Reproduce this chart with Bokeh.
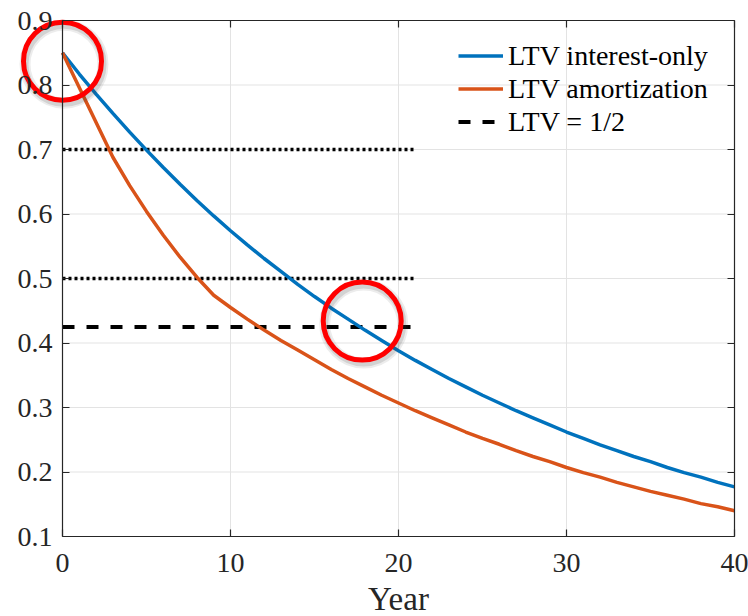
from bokeh.plotting import figure
from bokeh.models import FixedTicker, LinearAxis, Legend, LegendItem, Range1d
from bokeh.embed import file_html
from bokeh.resources import INLINE

# ---------------- data ----------------
years = list(range(0, 41))
ltv_interest_only = [0.850, 0.817, 0.786, 0.756, 0.727, 0.699, 0.672, 0.646, 0.621, 0.597,
                     0.574, 0.552, 0.531, 0.511, 0.491, 0.472, 0.454, 0.437, 0.420, 0.404,
                     0.388, 0.373, 0.359, 0.345, 0.332, 0.319, 0.307, 0.295, 0.284, 0.273,
                     0.262, 0.252, 0.242, 0.233, 0.224, 0.216, 0.207, 0.199, 0.192, 0.184,
                     0.177]

amort_years = [0, 3, 4, 5, 6, 7, 8, 9] + list(range(10, 41))
ltv_amortization = [0.850, 0.688, 0.644, 0.604, 0.567, 0.533, 0.502, 0.474,
                    0.455, 0.437, 0.420, 0.404, 0.389, 0.374, 0.359, 0.345, 0.332, 0.319,
                    0.307, 0.295, 0.284, 0.273, 0.262, 0.252, 0.243, 0.233, 0.224, 0.216,
                    0.207, 0.199, 0.192, 0.184, 0.177, 0.170, 0.164, 0.158, 0.151, 0.146,
                    0.140]

ref_x = [0, 21]
dotted_levels = [0.7, 0.5]
half_level = 0.425

x_ticks = [0, 10, 20, 30, 40]
y_ticks = [0.1, 0.2, 0.3, 0.4, 0.5, 0.6, 0.7, 0.8, 0.9]

highlight_x = [0, 17.84]
highlight_y = [0.837, 0.434]

series_labels = ["LTV interest-only", "LTV amortization", "LTV = 1/2"]
x_label = "Year"

# ---------------- styling / layout ----------------
FONT = "Liberation Serif, Times New Roman, Times, serif"
AX = "#262626"
BLUE = "#0072BD"
ORANGE = "#D95319"
W, H = 748, 616
BOX_L, BOX_R, BOX_T, BOX_B = 62, 734, 20, 536     # pixel box of the axes
X0, X1 = x_ticks[0], x_ticks[-1]
Y0, Y1 = y_ticks[0], y_ticks[-1]
sx = (BOX_R - BOX_L) / (X1 - X0)
sy = (BOX_B - BOX_T) / (Y1 - Y0)
xr = Range1d(X0 - BOX_L / sx, X1 + (W - BOX_R) / sx)
yr = Range1d(Y0 - (H - BOX_B) / sy, Y1 + BOX_T / sy)

p = figure(frame_width=W, frame_height=H, x_range=xr, y_range=yr,
           x_axis_location=None, y_axis_location=None,
           output_backend="svg", toolbar_location=None,
           min_border=0, min_border_left=0, min_border_right=0,
           min_border_top=0, min_border_bottom=0,
           background_fill_color="white", border_fill_color="white")
p.outline_line_color = None
p.grid.visible = False

# grid lines derived from the tick lists
inner_x = x_ticks[1:-1]
inner_y = y_ticks[1:-1]
p.segment(x0=inner_x, y0=[Y0] * len(inner_x), x1=inner_x, y1=[Y1] * len(inner_x),
          line_color="#e3e3e3", line_width=1)
p.segment(x0=[X0] * len(inner_y), y0=inner_y, x1=[X1] * len(inner_y), y1=inner_y,
          line_color="#e3e3e3", line_width=1)

def make_axis(ticks, loc, bounds, labels=True):
    a = LinearAxis(ticker=FixedTicker(ticks=ticks), fixed_location=loc, bounds=bounds,
                   major_tick_in=7, major_tick_out=0, minor_tick_line_color=None,
                   axis_line_color=AX, axis_line_width=1.2, major_tick_line_color=AX,
                   major_tick_line_width=1.2)
    if labels:
        a.major_label_text_font = FONT
        a.major_label_text_font_size = "28px"
        a.major_label_text_color = AX
    else:
        a.major_label_text_color = None
        a.major_label_standoff = 0
    return a

bottom = make_axis(x_ticks, Y0, (X0, X1))
bottom.major_label_standoff = 17
bottom.axis_label = x_label
bottom.axis_label_text_font = FONT
bottom.axis_label_text_font_size = "33px"
bottom.axis_label_text_font_style = "normal"
bottom.axis_label_text_color = AX
bottom.axis_label_standoff = 6
left = make_axis(y_ticks, X0, (Y0, Y1))
left.major_label_standoff = 10
top = make_axis(x_ticks, Y1, (X0, X1), labels=False)
right = make_axis(y_ticks, X1, (Y0, Y1), labels=False)
p.add_layout(bottom, "below")
p.add_layout(left, "left")
p.add_layout(top, "above")
p.add_layout(right, "right")

# reference lines
for lv in dotted_levels:
    p.line(ref_x, [lv, lv], line_color="black", line_width=3.3, line_dash="3 3")
r_half = p.line(ref_x, [half_level, half_level], line_color="black",
                line_width=4, line_dash="12 12")

r_io = p.line(years, ltv_interest_only, line_color=BLUE, line_width=3.5)
r_am = p.line(amort_years, ltv_amortization, line_color=ORANGE, line_width=3.5)

# highlight circles with soft shadow
shx = [x + 1.5 / sx for x in highlight_x]
shy = [y - 3 / sy for y in highlight_y]
p.scatter(shx, shy, marker="circle", size=78, fill_color=None,
          line_color="#444444", line_alpha=0.10, line_width=11)
p.scatter(shx, shy, marker="circle", size=78, fill_color=None,
          line_color="#444444", line_alpha=0.15, line_width=7)
p.scatter(highlight_x, highlight_y, marker="circle", size=78, fill_color=None,
          line_color="#ff0000", line_width=5)

legend = Legend(items=[LegendItem(label=series_labels[0], renderers=[r_io]),
                       LegendItem(label=series_labels[1], renderers=[r_am]),
                       LegendItem(label=series_labels[2], renderers=[r_half])],
                location=(458, 478), padding=0, margin=0, spacing=0,
                glyph_width=45, glyph_height=33, label_height=33,
                label_standoff=5, border_line_color=None,
                background_fill_alpha=0, label_text_font=FONT,
                label_text_font_size="28px", label_text_color="black")
p.add_layout(legend, "center")

open("out.html", "w").write(file_html(p, INLINE))
